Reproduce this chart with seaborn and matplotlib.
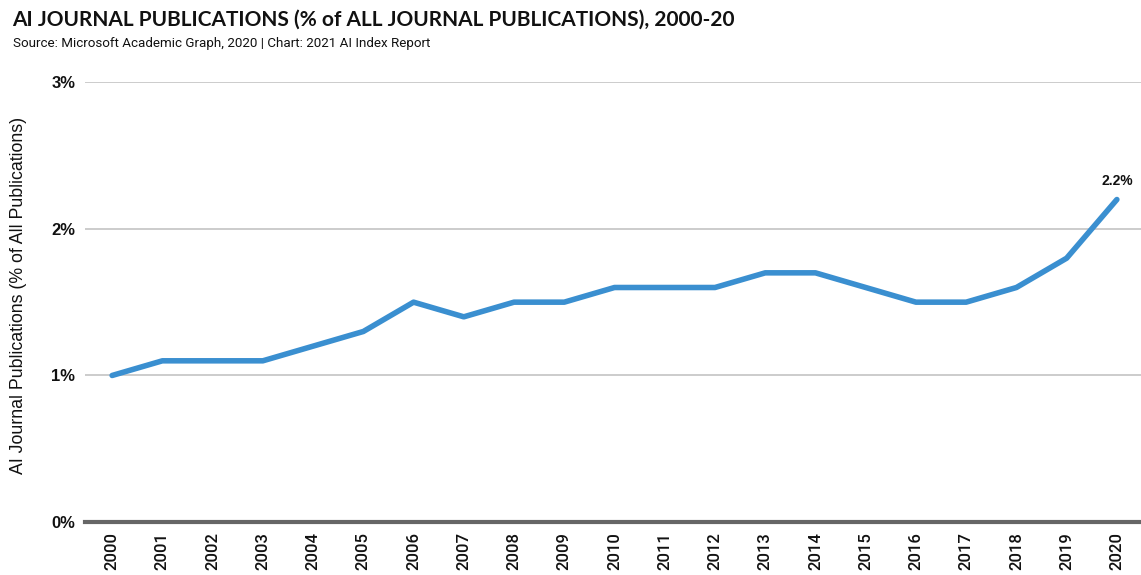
import matplotlib
matplotlib.use("Agg")
import matplotlib.pyplot as plt
import seaborn as sns
import pandas as pd
from matplotlib.ticker import FuncFormatter

years = [2000, 2001, 2002, 2003, 2004, 2005, 2006, 2007, 2008, 2009, 2010,
         2011, 2012, 2013, 2014, 2015, 2016, 2017, 2018, 2019, 2020]
share_pct = [1.0, 1.1, 1.1, 1.1, 1.2, 1.3, 1.5, 1.4, 1.5, 1.5, 1.6,
             1.6, 1.6, 1.7, 1.7, 1.6, 1.5, 1.5, 1.6, 1.8, 2.2]
y_ticks = [0, 1, 2, 3]

title = "AI JOURNAL PUBLICATIONS (% of ALL JOURNAL PUBLICATIONS), 2000-20"
subtitle = "Source: Microsoft Academic Graph, 2020 | Chart: 2021 AI Index Report"
y_label = "AI Journal Publications (% of All Publications)"

sns.set_theme(style="white")
plt.rcParams["font.family"] = ["Liberation Sans", "DejaVu Sans"]

df = pd.DataFrame({"year": years, "share": share_pct})

fig = plt.figure(figsize=(11.41, 5.75), dpi=100)
ax = fig.add_axes([0.0745, 0.092, 0.9255, 0.765])

sns.lineplot(data=df, x="year", y="share", ax=ax, color="#3a8fd0",
             linewidth=4, solid_capstyle="round", solid_joinstyle="round")

ax.set_xlim(years[0] - 0.54, years[-1] + 0.48)
ax.set_ylim(0, 3)
ax.set_yticks(y_ticks)
ax.yaxis.set_major_formatter(FuncFormatter(lambda v, _: f"{v:.0f}%"))
ax.set_xticks(years)
ax.set_xticklabels([str(y) for y in years], rotation=90, fontsize=12,
                   family=["Roboto", "DejaVu Sans"], fontweight="medium",
                   color="#111111")
for lbl in ax.get_yticklabels():
    lbl.set_fontsize(12)
    lbl.set_fontweight("bold")
    lbl.set_color("#111111")
ax.tick_params(axis="x", length=0, pad=7)
ax.tick_params(axis="y", length=0, pad=7)

ax.grid(axis="y", color="#c4c4c4", linewidth=1.2)
ax.set_axisbelow(True)
for side in ["left", "right", "top"]:
    ax.spines[side].set_visible(False)
ax.spines["bottom"].set_color("#666666")
ax.spines["bottom"].set_linewidth(3)

ax.set_xlabel("")
ax.set_ylabel(y_label, fontsize=12.8, color="#111111")
ax.yaxis.set_label_coords(-0.055, 0.515)

ax.annotate(f"{share_pct[-1]:.1f}%", xy=(years[-1], share_pct[-1]),
            xytext=(0, 8), textcoords="offset points", ha="center",
            va="bottom", fontsize=10, fontweight="bold", color="#111111")

fig.text(0.011, 0.965, title, fontsize=15, fontweight="bold",
         family=["Lato", "DejaVu Sans"], va="center", color="#111111")
fig.text(0.011, 0.925, subtitle, fontsize=9.6,
         family=["Roboto", "DejaVu Sans"], va="center", color="#111111")

fig.savefig("out.png", dpi=100)
